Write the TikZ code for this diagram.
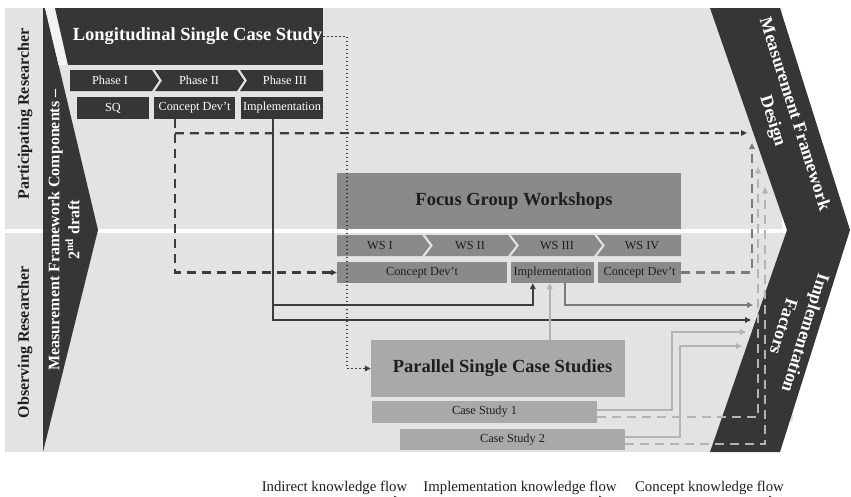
\documentclass[tikz,border=0pt]{standalone}
\usepackage{fontspec}
\setmainfont{Liberation Serif}
\usetikzlibrary{arrows.meta,calc}

\definecolor{band}{HTML}{E3E3E3}
\definecolor{ink}{HTML}{363636}
\definecolor{midbox}{HTML}{8A8A8A}
\definecolor{litebox}{HTML}{A9A9A9}
\definecolor{darkline}{HTML}{3C3C3C}
\definecolor{midline}{HTML}{7A7A7A}
\definecolor{liteline}{HTML}{B4B4B4}
\definecolor{txt}{HTML}{1E1E1E}
\definecolor{stripe}{HTML}{F2F2F2}

\begin{document}
\begin{tikzpicture}[x=1pt,y=-1pt,
  lbl/.style={inner sep=0pt,font=\fontsize{12.3}{14}\selectfont},
  darkbox/.style={lbl,fill=ink,text=white},
  midbx/.style={lbl,fill=midbox,text=txt},
  litebx/.style={lbl,fill=litebox,text=txt},
  boxtitle/.style={inner sep=0pt,font=\bfseries\fontsize{18.5}{22}\selectfont},
  sidelbl/.style={rotate=90,text=txt,font=\bfseries\fontsize{16}{20}\selectfont},
  chevtext/.style={text=white,align=center,font=\bfseries\fontsize{18}{23}\selectfont},
  leg/.style={text=txt,inner sep=0pt,font=\fontsize{14.8}{17}\selectfont},
  arr/.style={-{Triangle[length=6pt,width=5.5pt]}},
  iflow/.style={draw=darkline,line width=2.2pt},
  mflow/.style={draw=midline,line width=2.2pt},
  lflow/.style={draw=liteline,line width=2.2pt},
  cdash/.style={dash pattern=on 9pt off 6pt},
  idots/.style={draw=darkline,line width=1.8pt,dash pattern=on 1.5pt off 2.5pt}
]
\useasboundingbox (0,0) rectangle (851,496);

% background bands
\fill[band] (5,8) rectangle (782,229);
\fill[band] (5,232) rectangle (793,421);
\fill[band] (5,421) rectangle (760,452);
\fill[white] (5,229) rectangle (787,232.5);

% left wedge: framework components, second draft
\fill[ink] (43,8) -- (45,8) -- (98,230) -- (43,452) -- cycle;
\fill[stripe] (45,8) -- (55,8) -- (68,65) -- (58.6,65) -- cycle;

% right chevron: design / implementation factors
\fill[ink] (710,8) -- (780,8) -- (850,230) -- (780,452) -- (710,452) -- (787,230) -- cycle;

% longitudinal single case study
\fill[ink] (55,8) -- (68,8) -- (68,65) -- cycle;
\node[boxtitle,fill=ink,text=white,minimum width=255pt,minimum height=57pt] (lscs) at (195.5,36.5) {Longitudinal Single Case Study\hspace*{-4pt}};

\fill[ink] (70,70) -- (152,70) -- (159,80.5) -- (152,91) -- (70,91) -- cycle;
\fill[ink] (155,70) -- (237,70) -- (244,80.5) -- (237,91) -- (155,91) -- (162,80.5) -- cycle;
\fill[ink] (240,70) -- (323,70) -- (323,91) -- (240,91) -- (247,80.5) -- cycle;
\node[lbl,text=white] (ph1) at (110,80.5) {Phase I};
\node[lbl,text=white] (ph2) at (199,80.5) {Phase II};
\node[lbl,text=white] (ph3) at (285,80.5) {Phase III};

\node[darkbox,minimum width=72pt,minimum height=22pt] (sq) at (113,108) {SQ};
\node[darkbox,minimum width=81pt,minimum height=22pt] (lcd) at (194.5,108) {Concept Dev’t};
\node[darkbox,minimum width=82pt,minimum height=22pt] (limp) at (282,108) {Implementation};

% focus group workshops
\node[boxtitle,fill=midbox,text=txt,minimum width=344pt,minimum height=56pt] (fgw) at (509,201) {\hspace*{10pt}Focus Group Workshops};

\fill[midbox] (337,235) -- (422,235) -- (430,245.5) -- (422,256) -- (337,256) -- cycle;
\fill[midbox] (425,235) -- (508,235) -- (516,245.5) -- (508,256) -- (425,256) -- (433,245.5) -- cycle;
\fill[midbox] (511,235) -- (594,235) -- (602,245.5) -- (594,256) -- (511,256) -- (519,245.5) -- cycle;
\fill[midbox] (597,235) -- (681,235) -- (681,256) -- (597,256) -- (605,245.5) -- cycle;
\node[lbl,text=txt] (ws1) at (380,245.5) {WS I};
\node[lbl,text=txt] (ws2) at (470,245.5) {WS II};
\node[lbl,text=txt] (ws3) at (557,245.5) {WS III};
\node[lbl,text=txt] (ws4) at (642,245.5) {WS IV};

\node[midbx,minimum width=170pt,minimum height=21pt] (wcd1) at (422,272.5) {Concept Dev’t};
\node[midbx,minimum width=83pt,minimum height=21pt] (wimp) at (552.5,272.5) {Implementation};
\node[midbx,minimum width=83pt,minimum height=21pt] (wcd2) at (639.5,272.5) {Concept Dev’t};

% parallel single case studies
\node[boxtitle,fill=litebox,text=txt,minimum width=254pt,minimum height=57pt] (pscs) at (498,368.5) {\hspace*{9pt}Parallel Single Case Studies};
\node[litebx,minimum width=225pt,minimum height=22pt] (cs1) at (484.5,412) {Case Study 1};
\node[litebx,minimum width=225pt,minimum height=21pt] (cs2) at (512.5,439.5) {Case Study 2};

% end points on the right chevron
\coordinate (mfdA) at (747,133);
\coordinate (mfdB) at (752,143);
\coordinate (mfdC) at (758,167);
\coordinate (mfdD) at (765,187);
\coordinate (ifA) at (751,320);
\coordinate (ifB) at (753,305);
\coordinate (ifC) at (746,332);
\coordinate (ifD) at (742,346);
\coordinate (dotc) at (347,368.5);

% concept knowledge flows (dashed)
\draw[draw=darkline,line width=2.2pt,cdash,arr] ([xshift=21pt]lcd.south west) |- (wcd1.west);
\draw[draw=darkline,line width=2.2pt,cdash,arr] ([xshift=21pt,yshift=-14pt]lcd.south west) -- (mfdA);
\draw[draw=midline,line width=2.2pt,cdash,arr] (wcd2.east) -| (mfdB);
\draw[draw=liteline,line width=2.2pt,cdash,arr] ([yshift=-5pt]cs1.east) -| (mfdC);
\draw[draw=liteline,line width=2.2pt,cdash,arr] ([yshift=-4.5pt]cs2.east) -| (mfdD);

% implementation knowledge flows (solid)
\draw[iflow,arr] ([xshift=32pt]limp.south west) |- (ifA);
\draw[iflow,arr] ([xshift=32pt,yshift=-186pt]limp.south west) -| ([xshift=22pt]wimp.south west);
\draw[mflow,arr] ([xshift=54pt]wimp.south west) |- (ifB);
\draw[lflow,arr] ([xshift=179pt]pscs.north west) -- ([xshift=179pt]pscs.north west |- wimp.south);
\draw[lflow,arr] ([yshift=2pt]cs1.east) -| ([xshift=-74pt]ifC) -- (ifC);
\draw[lflow,arr] ([yshift=2.5pt]cs2.east) -| ([xshift=-62pt]ifD) -- (ifD);

% indirect knowledge flow (dotted)
\draw[idots,arr] (lscs.east) -| (dotc) -- (pscs.west);

% side labels
\node[sidelbl] (part) at (25,114) {Participating Researcher};
\node[sidelbl] (obs) at (25,342) {Observing Researcher};
\node[rotate=90,text=white,align=center,font=\bfseries\fontsize{16}{20}\selectfont] (mfc) at (64,230) {Measurement Framework Components –\\2\textsuperscript{nd} draft};
\node[chevtext,rotate=-72.5] (mfd) at (783,118) {Measurement Framework\\Design};
\node[chevtext,rotate=-107.5] (impf) at (795,330) {Implementation\\Factors};

% legend
\node[leg,anchor=base] (lgI) at (334.5,491) {Indirect knowledge flow};
\node[leg,anchor=base] (lgM) at (520,491) {Implementation knowledge flow};
\node[leg,anchor=base] (lgC) at (709.5,491) {Concept knowledge flow};
\coordinate (kI0) at (270,498.5);
\coordinate (kI1) at (400,498.5);
\coordinate (kM0) at (430,498.5);
\coordinate (kM1) at (605,498.5);
\coordinate (kC0) at (640,498.5);
\coordinate (kC1) at (775,498.5);
\draw[idots,arr] (kI0) -- (kI1);
\draw[iflow,arr] (kM0) -- (kM1);
\draw[draw=darkline,line width=2.2pt,cdash,arr] (kC0) -- (kC1);
\end{tikzpicture}
\end{document}
